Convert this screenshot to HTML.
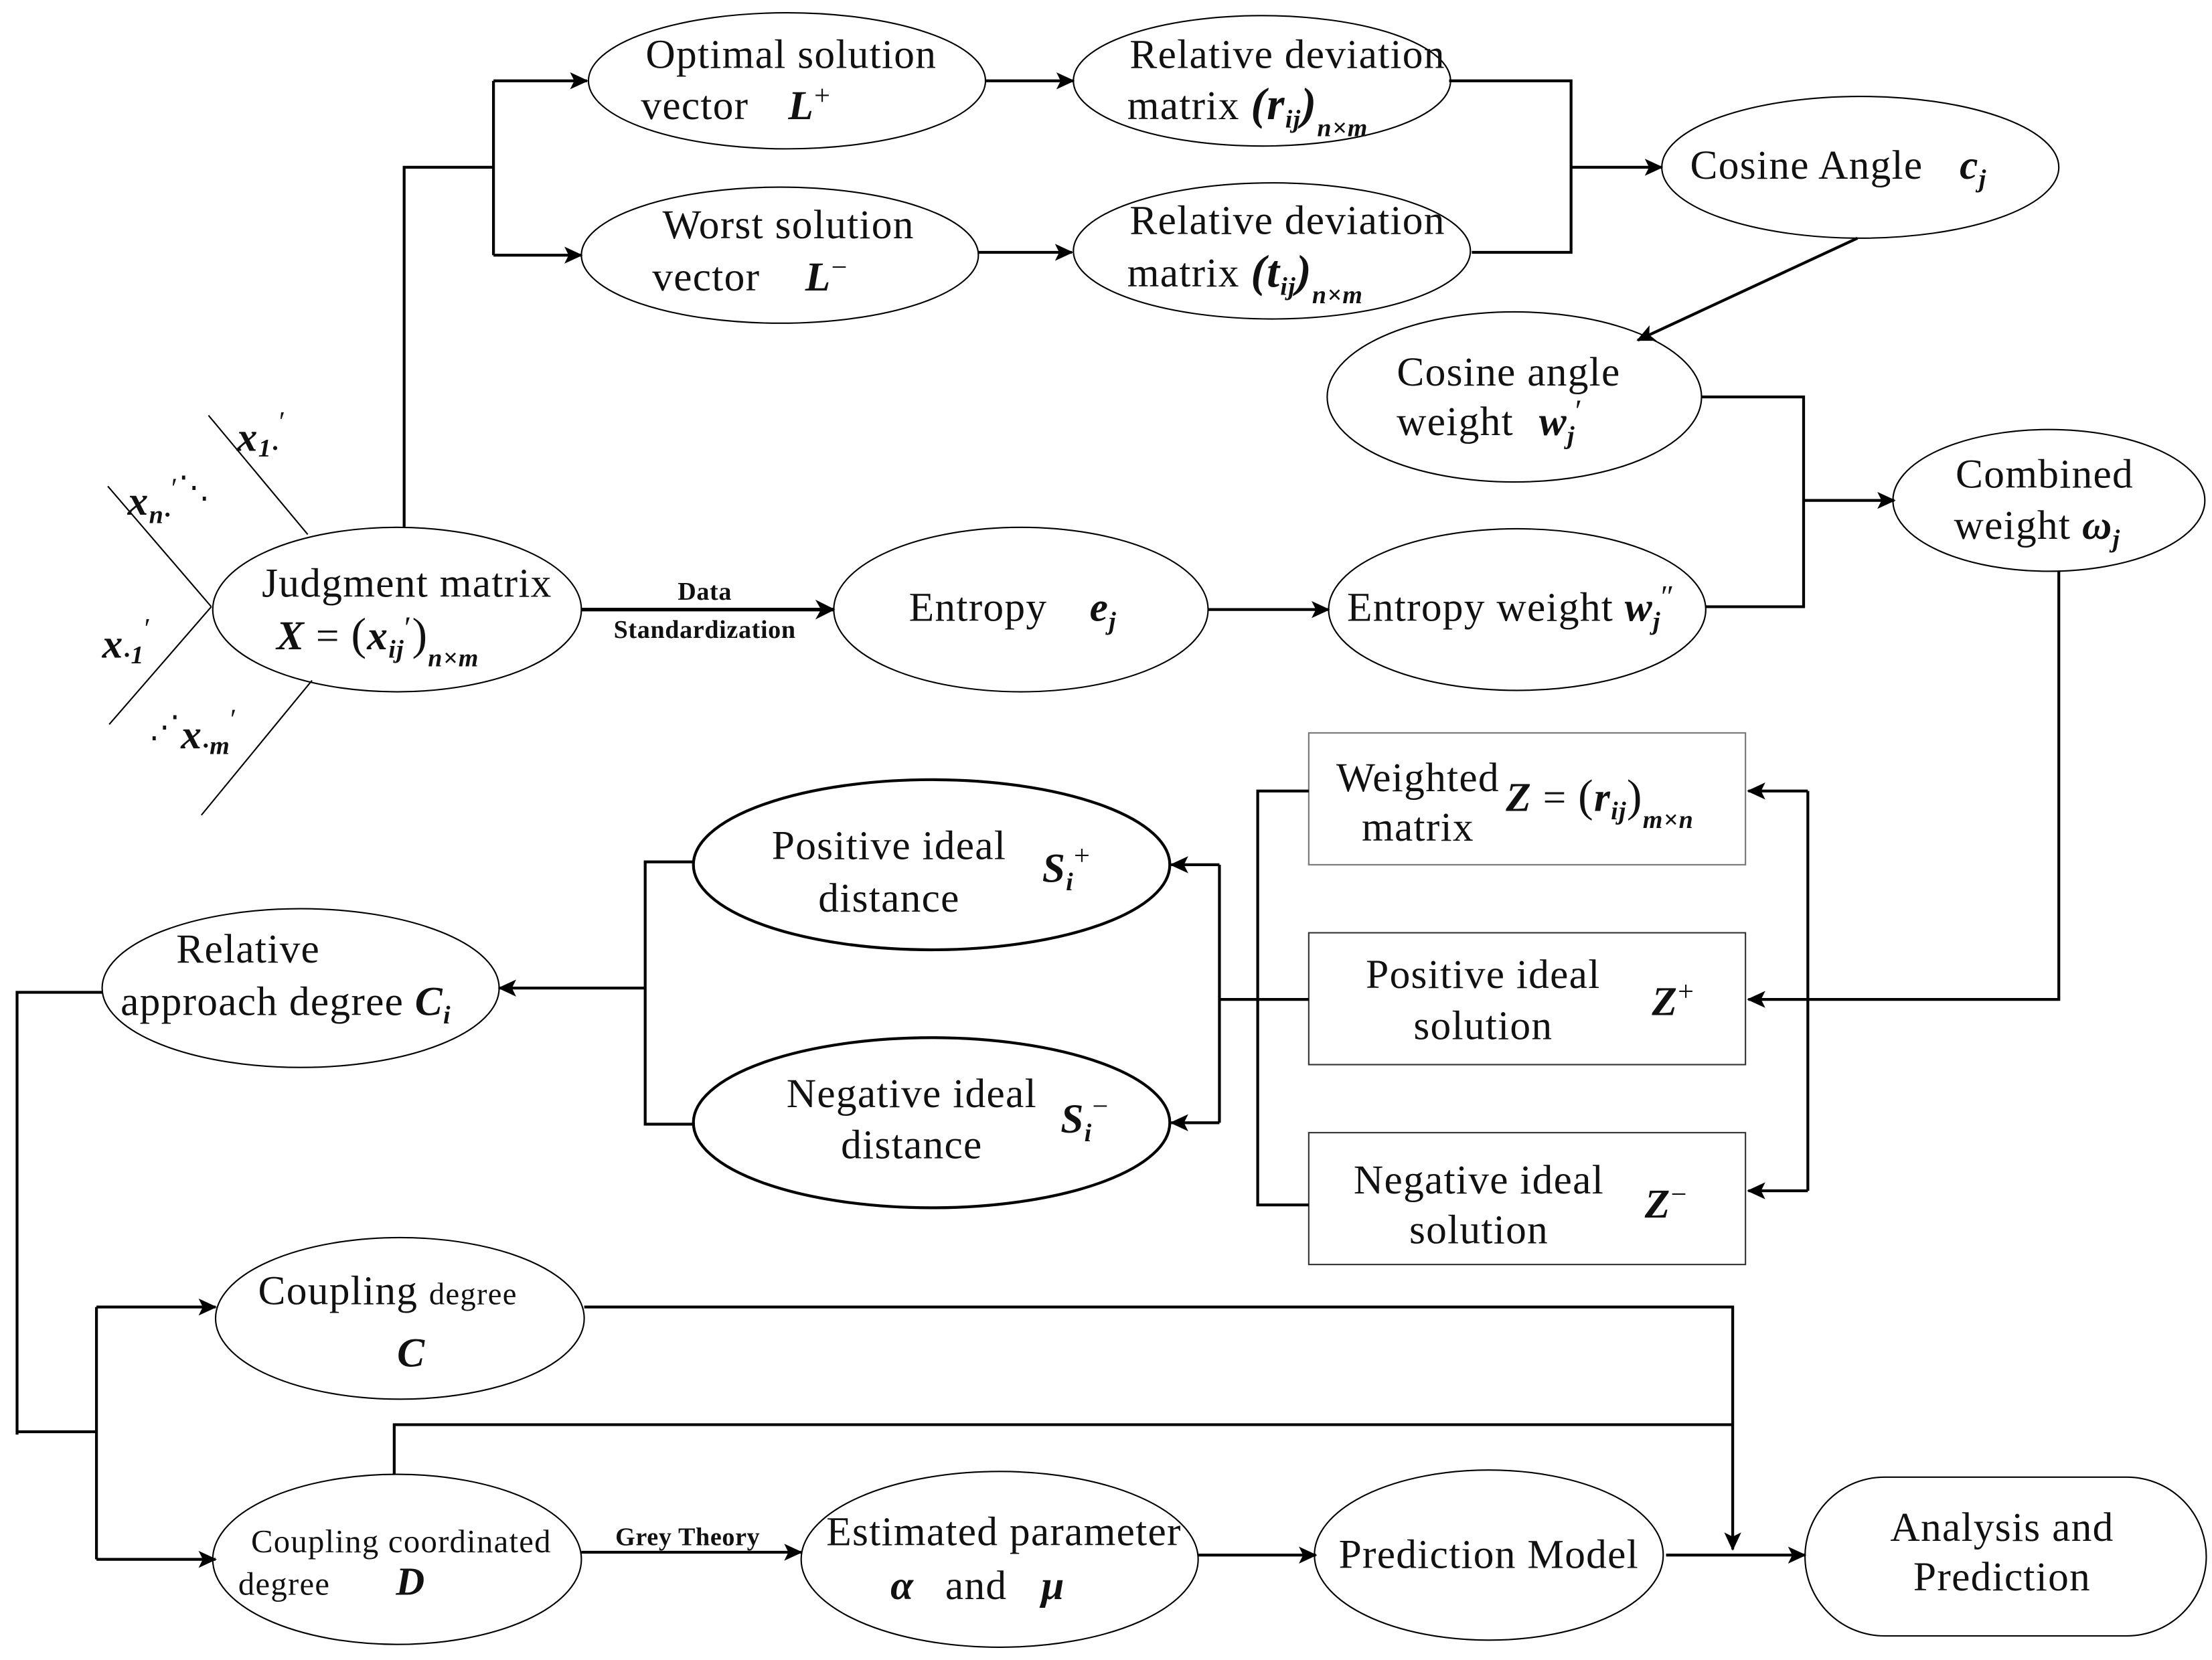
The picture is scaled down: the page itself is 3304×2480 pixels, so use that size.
<!DOCTYPE html>
<html><head><meta charset="utf-8"><style>
html,body{margin:0;padding:0;background:#fff;}
svg{display:block;}
text{font-family:"Liberation Serif",serif;fill:#111;}
.t{font-size:29px;letter-spacing:0.6px;}
.m{font-style:italic;font-weight:bold;}
.s{font-size:18px;letter-spacing:0.3px;}
</style></head><body>
<svg width="3304" height="2480" viewBox="0 0 1560 1171" xmlns="http://www.w3.org/2000/svg">
<defs>
<marker id="a" markerWidth="13" markerHeight="12" refX="12" refY="6" orient="auto" markerUnits="userSpaceOnUse">
<path d="M0,0 L13,6 L0,12 L3,6 Z" fill="#000"/></marker>
<marker id="b" markerWidth="14" markerHeight="14" refX="13" refY="7" orient="auto" markerUnits="userSpaceOnUse">
<path d="M0,0 L14,7 L0,14 L4,7 Z" fill="#000"/></marker>
</defs>
<g fill="none" stroke="#000" stroke-width="1">
<ellipse cx="555" cy="57" rx="140" ry="48"/>
<ellipse cx="890" cy="57" rx="133" ry="46"/>
<ellipse cx="550" cy="180" rx="140" ry="48"/>
<ellipse cx="897" cy="177" rx="140" ry="48"/>
<ellipse cx="1312" cy="118" rx="140" ry="50"/>
<ellipse cx="1068" cy="280" rx="132" ry="60"/>
<ellipse cx="1445" cy="353" rx="110" ry="50"/>
<ellipse cx="280" cy="430" rx="130" ry="58"/>
<ellipse cx="720" cy="430" rx="132" ry="58"/>
<ellipse cx="1070" cy="430" rx="133" ry="57"/>
<ellipse cx="657" cy="610" rx="168" ry="60" stroke-width="2"/>
<ellipse cx="657" cy="792" rx="168" ry="60" stroke-width="2"/>
<ellipse cx="212" cy="697" rx="140" ry="56"/>
<ellipse cx="282" cy="930" rx="130" ry="57"/>
<ellipse cx="280" cy="1100" rx="130" ry="60"/>
<ellipse cx="705" cy="1100" rx="140" ry="62"/>
<ellipse cx="1050" cy="1097" rx="123" ry="60"/>
<rect x="1273" y="1042" width="283" height="112" rx="56"/>
<rect x="923" y="517" width="308" height="93" stroke="#777"/>
<rect x="923" y="658" width="308" height="93" stroke="#333"/>
<rect x="923" y="799" width="308" height="93" stroke="#333"/>
<line x1="147" y1="293" x2="217" y2="377"/>
<line x1="76" y1="343" x2="149" y2="428"/>
<line x1="149" y1="428" x2="77" y2="511"/>
<line x1="220" y1="480" x2="142" y2="575"/>
</g>
<g fill="none" stroke="#000" stroke-width="2">
<polyline points="285,372 285,118 348,118"/>
<line x1="348" y1="57" x2="348" y2="180"/>
<line x1="348" y1="57" x2="414" y2="57" marker-end="url(#a)"/>
<line x1="348" y1="180" x2="410" y2="180" marker-end="url(#a)"/>
<line x1="695" y1="57" x2="757" y2="57" marker-end="url(#a)"/>
<line x1="690" y1="178" x2="756" y2="178" marker-end="url(#a)"/>
<polyline points="1022,57 1108,57 1108,178 1038,178"/>
<line x1="1108" y1="118" x2="1172" y2="118" marker-end="url(#a)"/>
<line x1="1310" y1="168" x2="1155" y2="240" marker-end="url(#a)"/>
<polyline points="1200,280 1272,280 1272,428 1203,428"/>
<line x1="1272" y1="353" x2="1336" y2="353" marker-end="url(#a)"/>
<polyline points="1452,403 1452,705 1233,705" marker-end="url(#a)"/>
<polyline points="1275,558 1275,840"/>
<line x1="1275" y1="558" x2="1233" y2="558" marker-end="url(#a)"/>
<line x1="1275" y1="840" x2="1233" y2="840" marker-end="url(#a)"/>
<line x1="410" y1="430" x2="588" y2="430" stroke-width="2.5" marker-end="url(#b)"/>
<line x1="852" y1="430" x2="937" y2="430" marker-end="url(#a)"/>
<polyline points="923,558 887,558 887,850 923,850"/>
<line x1="923" y1="705" x2="860" y2="705"/>
<line x1="860" y1="610" x2="860" y2="792"/>
<line x1="860" y1="610" x2="826" y2="610" marker-end="url(#a)"/>
<line x1="860" y1="792" x2="826" y2="792" marker-end="url(#a)"/>
<polyline points="490,608 455,608 455,793 490,793"/>
<line x1="455" y1="697" x2="352" y2="697" marker-end="url(#a)"/>
<polyline points="72,700 12,700 12,1012"/>
<line x1="12" y1="1010" x2="68" y2="1010"/>
<line x1="68" y1="922" x2="68" y2="1100"/>
<line x1="68" y1="922" x2="152" y2="922" marker-end="url(#a)"/>
<line x1="68" y1="1100" x2="152" y2="1100" marker-end="url(#a)"/>
<polyline points="412,922 1222,922 1222,1093" marker-end="url(#a)"/>
<polyline points="278,1040 278,1005 1222,1005"/>
<line x1="410" y1="1095" x2="565" y2="1095" marker-end="url(#a)"/>
<line x1="845" y1="1097" x2="928" y2="1097" marker-end="url(#a)"/>
<line x1="1175" y1="1097" x2="1273" y2="1097" marker-end="url(#a)"/>
</g>
<g class="t">
<text x="558" y="48" text-anchor="middle">Optimal solution</text>
<text x="452" y="84">vector <tspan class="m" dx="20">L</tspan><tspan font-size="20" dy="-10">+</tspan></text>
<text x="908" y="48" text-anchor="middle">Relative deviation</text>
<text x="795" y="84">matrix <tspan class="m" font-size="32">(r</tspan><tspan class="m" font-size="18" dy="6">ij</tspan><tspan class="m" font-size="32" dy="-6">)</tspan><tspan class="m" font-size="18" dy="12">n×m</tspan></text>
<text x="556" y="168" text-anchor="middle">Worst  solution</text>
<text x="460" y="205">vector <tspan class="m" dx="24">L</tspan><tspan font-size="20" dy="-10">−</tspan></text>
<text x="908" y="165" text-anchor="middle">Relative deviation</text>
<text x="795" y="202">matrix <tspan class="m" font-size="32">(t</tspan><tspan class="m" font-size="18" dy="6">ij</tspan><tspan class="m" font-size="32" dy="-6">)</tspan><tspan class="m" font-size="18" dy="12">n×m</tspan></text>
<text x="1192" y="126">Cosine Angle <tspan class="m" dx="18">c</tspan><tspan class="m" font-size="18" dy="6">j</tspan></text>
<text x="1064" y="272" text-anchor="middle">Cosine angle</text>
<text x="985" y="307">weight <tspan class="m" dx="10">w</tspan><tspan class="m" font-size="18" dy="6">j</tspan><tspan font-size="22" dy="-16">′</tspan></text>
<text x="1442" y="344" text-anchor="middle">Combined</text>
<text x="1378" y="380">weight <tspan class="m">ω</tspan><tspan class="m" font-size="18" dy="6">j</tspan></text>
<text x="287" y="421" text-anchor="middle">Judgment matrix</text>
<text x="195" y="458"><tspan class="m">X</tspan> = <tspan font-size="32">(</tspan><tspan class="m">x</tspan><tspan class="m" font-size="18" dy="6">ij</tspan><tspan font-size="22" dy="-14">′</tspan><tspan font-size="32" dy="8">)</tspan><tspan class="m" font-size="18" dy="12">n×m</tspan></text>
<text x="641" y="438">Entropy <tspan class="m" dx="22">e</tspan><tspan class="m" font-size="18" dy="6">j</tspan></text>
<text x="950" y="438">Entropy weight <tspan class="m">w</tspan><tspan class="m" font-size="18" dy="6">j</tspan><tspan font-size="22" dy="-16">″</tspan></text>
<text x="1000" y="558" text-anchor="middle">Weighted</text>
<text x="1000" y="593" text-anchor="middle">matrix</text>
<text x="1062" y="572"><tspan class="m">Z</tspan> = <tspan font-size="32">(</tspan><tspan class="m">r</tspan><tspan class="m" font-size="18" dy="6">ij</tspan><tspan font-size="32" dy="-6">)</tspan><tspan class="m" font-size="18" dy="12">m×n</tspan></text>
<text x="1046" y="697" text-anchor="middle">Positive ideal</text>
<text x="1046" y="733" text-anchor="middle">solution</text>
<text x="1165" y="716"><tspan class="m">Z</tspan><tspan font-size="20" dy="-10">+</tspan></text>
<text x="1043" y="842" text-anchor="middle">Negative ideal</text>
<text x="1043" y="877" text-anchor="middle">solution</text>
<text x="1160" y="859"><tspan class="m">Z</tspan><tspan font-size="20" dy="-10">−</tspan></text>
<text x="627" y="606" text-anchor="middle">Positive ideal</text>
<text x="627" y="643" text-anchor="middle">distance</text>
<text x="735" y="622"><tspan class="m">S</tspan><tspan class="m" font-size="18" dy="6">i</tspan><tspan font-size="20" dy="-18">+</tspan></text>
<text x="643" y="781" text-anchor="middle">Negative ideal</text>
<text x="643" y="817" text-anchor="middle">distance</text>
<text x="748" y="799"><tspan class="m">S</tspan><tspan class="m" font-size="18" dy="6">i</tspan><tspan font-size="20" dy="-18">−</tspan></text>
<text x="175" y="679" text-anchor="middle">Relative</text>
<text x="85" y="716">approach degree <tspan class="m">C</tspan><tspan class="m" font-size="18" dy="6">i</tspan></text>
<text x="182" y="920">Coupling <tspan font-size="22">degree</tspan></text>
<text x="280" y="964" class="m">C</text>
<text x="283" y="1095" text-anchor="middle" font-size="23">Coupling coordinated</text>
<text x="168" y="1125" font-size="23">degree <tspan class="m" font-size="28" dx="40">D</tspan></text>
<text x="708" y="1090" text-anchor="middle">Estimated parameter</text>
<text x="628" y="1128"><tspan class="m">α</tspan><tspan dx="22">and</tspan><tspan class="m" dx="24">μ</tspan></text>
<text x="1050" y="1106" text-anchor="middle">Prediction Model</text>
<text x="1412" y="1087" text-anchor="middle">Analysis and</text>
<text x="1412" y="1122" text-anchor="middle">Prediction</text>
<text x="167" y="318"><tspan class="m">x</tspan><tspan class="m" font-size="18" dy="4">1·</tspan><tspan font-size="20" dy="-18">′</tspan></text>
<text x="90" y="363"><tspan class="m">x</tspan><tspan class="m" font-size="18" dy="6">n·</tspan><tspan font-size="20" dy="-18">′</tspan><tspan font-size="22">⋱</tspan></text>
<text x="72" y="464"><tspan class="m">x</tspan><tspan class="m" font-size="18" dy="4">·1</tspan><tspan font-size="20" dy="-18">′</tspan></text>
<text x="105" y="528"><tspan font-size="22" dy="-8">⋰</tspan><tspan class="m" dy="8">x</tspan><tspan class="m" font-size="18" dy="4">·m</tspan><tspan font-size="20" dy="-18">′</tspan></text>
</g>
<text x="497" y="423" text-anchor="middle" class="s" font-weight="bold">Data</text>
<text x="497" y="450" text-anchor="middle" class="s" font-weight="bold">Standardization</text>
<text x="485" y="1090" text-anchor="middle" class="s" font-weight="bold">Grey Theory</text>
</svg>
</body></html>
